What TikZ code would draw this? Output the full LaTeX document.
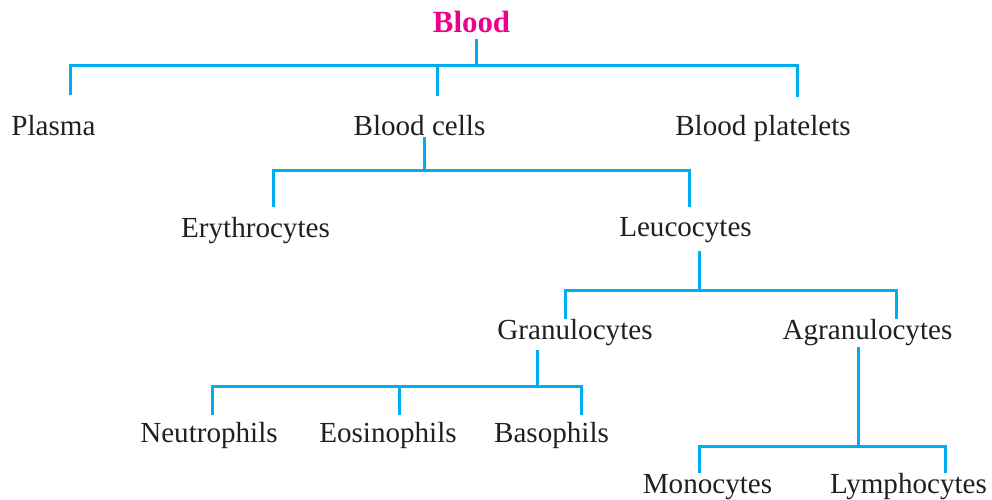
\documentclass[tikz,border=0pt]{standalone}
\usepackage{fontspec}
\setmainfont{Liberation Serif}
\definecolor{linkblue}{RGB}{0,174,239}
\definecolor{headpink}{RGB}{236,0,140}
\definecolor{textdark}{RGB}{35,31,32}
\begin{document}
\begin{tikzpicture}[x={(0.567pt,0)},y={(0,-0.567pt)}]

\tikzset{link/.style={linkblue,line width=1.7pt},
         item/.style={anchor=base,inner sep=0pt,text=textdark,font=\fontsize{16.5}{19}\selectfont},
         head/.style={anchor=base,inner sep=0pt,text=headpink,font=\fontsize{17.5}{20}\selectfont\bfseries}}

\useasboundingbox (0,0) rectangle (992,499);

% labels
\node[head] (blood) at (471.5,32) {Blood};
\node[item] (plasma) at (53.5,135) {Plasma};
\node[item] (cells) at (419.5,135) {Blood cells};
\node[item] (platelets) at (763,135) {Blood platelets};
\node[item] (erythro) at (255.5,237) {Erythrocytes};
\node[item] (leuco) at (685.5,236) {Leucocytes};
\node[item] (granulo) at (575,339) {Granulocytes};
\node[item] (agranulo) at (867.5,339) {Agranulocytes};
\node[item] (neutro) at (209,442) {Neutrophils};
\node[item] (eosino) at (388,442) {Eosinophils};
\node[item] (baso) at (551.5,442) {Basophils};
\node[item] (mono) at (707.5,493) {Monocytes};
\node[item] (lympho) at (908.5,493) {Lymphocytes};

% blood
\coordinate (j1) at ([shift={(4.5,33)}]blood.base);
\draw[link] ([shift={(4.5,7)}]blood.base) -- (j1);
\draw[link] ([shift={(16.5,-40)}]plasma.base) |- (j1) -| ([shift={(34,-38)}]platelets.base);
\draw[link] ([shift={(17.5,-39)}]cells.base) |- (j1);

% blood cells
\coordinate (j2) at ([shift={(4.5,35)}]cells.base);
\draw[link] ([shift={(4.5,2)}]cells.base) -- (j2);
\draw[link] ([shift={(17.5,-30)}]erythro.base) |- (j2) -| ([shift={(3.5,-29)}]leuco.base);

% leucocytes
\coordinate (j3) at ([shift={(13.5,54)}]leuco.base);
\draw[link] ([shift={(13.5,15)}]leuco.base) -- (j3);
\draw[link] ([shift={(-10,-20)}]granulo.base) |- (j3) -| ([shift={(28.5,-20)}]agranulo.base);

% granulocytes
\coordinate (j4) at ([shift={(-38,47)}]granulo.base);
\draw[link] ([shift={(-38,11)}]granulo.base) -- (j4);
\draw[link] ([shift={(3,-27)}]neutro.base) |- (j4) -| ([shift={(29.5,-27)}]baso.base);
\draw[link] ([shift={(11,-27)}]eosino.base) |- (j4);

% agranulocytes
\coordinate (j5) at ([shift={(-9.5,107)}]agranulo.base);
\draw[link] ([shift={(-9.5,8)}]agranulo.base) -- (j5);
\draw[link] ([shift={(-8.5,-20)}]mono.base) |- (j5) -| ([shift={(36.5,-20)}]lympho.base);

\end{tikzpicture}
\end{document}
